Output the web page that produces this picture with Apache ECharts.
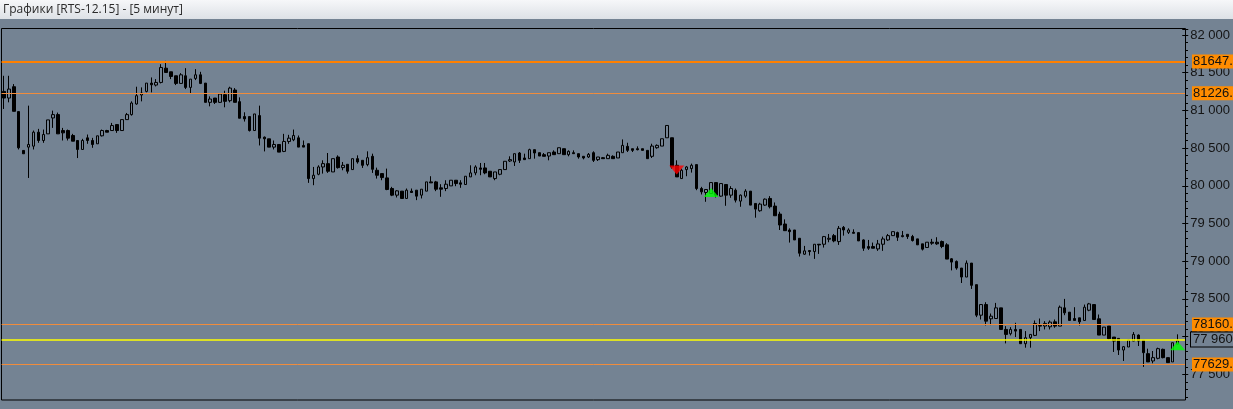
<!DOCTYPE html>
<html><head><meta charset="utf-8">
<script src="https://cdn.jsdelivr.net/npm/echarts@6/dist/echarts.min.js"></script>
<style>html,body{margin:0;padding:0;background:#748393;overflow:hidden}#c{width:1233px;height:409px}</style>
</head><body><div id="c"></div><script>
const titleText = 'Графики [RTS-12.15] - [5 минут]';

const open = [81252,81164,81314,80984,80469,80513,80526,80711,80601,80689,
80900,80944,80733,80733,80667,80601,80482,80636,80601,80557,
80663,80733,80733,80812,80733,80878,80944,81085,81204,81252,
81362,81336,81371,81560,81512,81459,81358,81459,81305,81424,
81472,81362,81107,81164,81107,81208,81129,81270,81116,80918,
80918,80733,80931,80645,80623,80513,80548,80456,80588,80610,
80636,80535,80558,80096,80153,80250,80294,80184,80382,80241,
80285,80215,80360,80338,80281,80391,80206,80162,80105,79964,
79876,79929,79832,79929,79942,79876,79929,80052,80052,79973,
79964,79999,80074,80039,80017,80118,80171,80237,80237,80193,
80096,80153,80215,80329,80316,80435,80369,80360,80479,80439,
80413,80395,80448,80426,80492,80413,80439,80426,80391,80382,
80439,80347,80373,80360,80391,80369,80439,80523,80492,80492,
80492,80470,80391,80505,80527,80637,80637,80272,80096,80215,
80228,80281,79964,79911,79898,80043,79863,80017,79876,79942,
79797,79863,79929,79766,79669,79744,79832,79731,79625,79493,
79414,79414,79304,79093,79141,79128,79225,79225,79291,79339,
79260,79449,79383,79383,79379,79282,79194,79194,79163,79225,
79282,79339,79379,79339,79357,79327,79296,79230,79182,79252,
79252,79261,79217,79032,78997,78909,78790,78975,78689,78284,
78425,78236,78240,78381,78095,78038,78095,78095,77906,77985,
78016,78148,78140,78130,78196,78139,78381,78324,78240,78249,
78214,78350,78425,78236,78020,78139,77994,77976,77822,77862,
77941,78020,77950,77774,77677,77712,77831,77721,77664,77900];

const close = [81164,81283,80988,80504,80425,80548,80711,80601,80680,80874,
80944,80689,80702,80632,80592,80482,80601,80601,80548,80663,
80733,80711,80799,80733,80878,80944,81098,81195,81230,81362,
81340,81371,81569,81503,81450,81358,81472,81305,81415,81472,
81358,81107,81151,81107,81217,81120,81296,81107,80896,80887,
80733,80953,80632,80623,80513,80548,80447,80588,80632,80667,
80513,80513,80096,80140,80250,80294,80193,80360,80241,80272,
80193,80360,80316,80272,80373,80219,80140,80109,79951,79876,
79933,79832,79942,79911,79863,79955,80052,80039,79955,79955,
80021,80074,80030,80021,80127,80171,80250,80219,80171,80118,
80184,80215,80325,80347,80426,80338,80347,80479,80435,80395,
80391,80439,80413,80505,80413,80457,80426,80382,80369,80417,
80338,80382,80360,80404,80360,80448,80536,80470,80470,80479,
80470,80360,80527,80536,80624,80800,80250,80118,80206,80250,
80272,79964,79920,79951,80043,79876,80030,79876,79964,79810,
79876,79929,79744,79691,79757,79823,79722,79603,79480,79405,
79392,79282,79106,79137,79128,79225,79216,79326,79304,79269,
79436,79414,79414,79370,79269,79172,79172,79172,79229,79295,
79339,79392,79317,79326,79326,79274,79217,79160,79252,79239,
79230,79195,79028,78988,78909,78790,78975,78680,78284,78425,
78205,78271,78381,78095,78029,78095,78073,77906,77985,78029,
78174,78139,78175,78192,78139,78390,78315,78214,78214,78196,
78390,78434,78227,78020,78126,77972,77941,77822,77866,77954,
78029,77941,77787,77664,77721,77840,77721,77655,77919,77945];

const low = [81019,81107,80988,80482,80425,80104,80482,80570,80570,80689,
80768,80689,80601,80601,80592,80368,80482,80557,80504,80557,
80654,80711,80733,80702,80733,80878,80931,81076,81120,81239,
81239,81318,81358,81503,81415,81336,81358,81283,81226,81402,
81349,81107,81054,81085,81098,81041,81107,81107,80896,80852,
80720,80733,80535,80456,80513,80482,80447,80447,80557,80592,
80513,80513,80039,80008,80140,80162,80171,80184,80228,80206,
80162,80215,80294,80237,80259,80171,80096,80074,79942,79863,
79845,79832,79832,79911,79810,79832,79929,80039,79929,79854,
79929,79999,79995,79973,80017,80118,80140,80140,80153,80118,
80074,80140,80215,80316,80263,80303,80347,80360,80360,80395,
80391,80338,80413,80426,80413,80391,80426,80360,80351,80369,
80316,80329,80360,80360,80360,80369,80439,80448,80448,80470,
80470,80360,80369,80492,80527,80637,80228,80118,80096,80127,
80175,79942,79885,79788,79898,79845,79854,79735,79841,79779,
79722,79841,79744,79577,79656,79735,79700,79603,79414,79405,
79247,79282,79062,79084,79075,79031,79097,79181,79251,79251,
79216,79339,79361,79370,79269,79137,79150,79172,79137,79137,
79269,79335,79269,79317,79295,79261,79217,79142,79182,79217,
79217,79173,79028,78878,78887,78711,78790,78632,78258,78227,
78148,78152,78236,78095,77910,78016,77994,77906,77853,77853,
78007,78073,78095,78095,78117,78139,78284,78214,78214,78148,
78214,78337,78227,78020,78020,77963,77796,77756,77677,77862,
77941,77875,77598,77664,77646,77699,77712,77655,77664,77900];

const high = [81459,81459,81349,80984,80469,81063,80733,80755,80746,80874,
80997,80971,80768,80746,80689,80601,80623,80680,80636,80663,
80746,80742,80834,80812,80878,80966,81120,81314,81305,81362,
81437,81415,81613,81657,81512,81459,81494,81560,81415,81547,
81512,81362,81186,81164,81230,81261,81314,81296,81173,80975,
80918,80953,81063,80654,80623,80601,80548,80689,80676,80746,
80667,80601,80558,80250,80272,80338,80435,80360,80404,80316,
80285,80360,80404,80338,80457,80426,80241,80162,80228,79986,
79942,79929,79964,79964,79942,79955,80052,80127,80065,80021,
80074,80074,80074,80074,80127,80272,80272,80303,80303,80193,
80184,80215,80325,80391,80426,80448,80426,80492,80479,80439,
80435,80439,80470,80505,80492,80470,80470,80426,80391,80435,
80457,80382,80382,80426,80404,80448,80615,80571,80492,80523,
80492,80470,80558,80549,80624,80800,80637,80338,80228,80263,
80294,80281,79986,79951,80043,80043,80030,80017,79995,79964,
79885,79955,79929,79766,79775,79832,79863,79779,79656,79555,
79436,79414,79304,79203,79141,79225,79225,79335,79361,79361,
79467,79467,79436,79423,79379,79291,79282,79247,79282,79326,
79361,79392,79392,79401,79357,79349,79296,79230,79252,79296,
79318,79274,79239,79041,79010,78909,79010,78975,78689,78425,
78456,78306,78447,78381,78139,78126,78183,78095,78073,78029,
78214,78240,78205,78214,78227,78412,78500,78324,78390,78249,
78425,78447,78425,78293,78126,78139,77994,77976,77875,77954,
78060,78029,77950,77840,77809,77853,77840,77721,77919,78030];

// horizontal levels (orange) and last price (yellow)
const levelValues = [81647, 81226, 78160, 77629];
const levelLabels = ['81647.', '81226.', '78160.', '77629.'];
const lastPrice = 77960;
const lastPriceLabel = '77 960';

// signal markers [candle index, price]
const sellSignals = [[137, 80211]];
const buySignals = [[144, 79912], [239, 77877]];

const BG = '#748393';
const FONT = '"Liberation Sans", Arial, sans-serif';

const cats = open.map((_, i) => String(i)).concat(['']);
const candles = open.map((o, i) => [o, close[i], low[i], high[i]]);
const fmt = v => String(v).replace(/\B(?=(\d{3})+(?!\d))/g, ' ');

const lvlLines = levelValues.map((v, i) => ({
  yAxis: v,
  lineStyle: i === 0
    ? { color: '#ff8000', width: 2, type: 'solid' }
    : { color: '#f08c3c', width: 1, type: 'solid' },
  label: {
    show: true, position: 'end', distance: 7, formatter: levelLabels[i],
    backgroundColor: '#ff8c00', color: '#111', fontSize: 13, fontFamily: FONT,
    padding: [1, 4, 0, 1], lineHeight: 13
  }
}));
lvlLines.push({
  yAxis: lastPrice,
  lineStyle: { color: '#ffff00', width: 1.5, type: 'solid' },
  label: {
    show: true, position: 'end', distance: 6, formatter: lastPriceLabel,
    backgroundColor: BG, borderColor: '#000', borderWidth: 1, color: '#111',
    fontSize: 13, fontFamily: FONT, padding: [1, 4, 0, 2], lineHeight: 13
  }
});

const chart = echarts.init(document.getElementById('c'), null, { renderer: 'canvas' });
const gl = 1.55, gw = 1183.45, gt = 28.97;
chart.setOption({
  animation: false,
  backgroundColor: BG,
  grid: [
    { left: gl, top: gt, width: gw, height: 367.95 },
    { left: gl, top: gt, width: gw, height: 345.33 }
  ],
  xAxis: [
    { gridIndex: 0, type: 'category', data: cats, boundaryGap: true, show: false },
    { gridIndex: 1, type: 'category', data: cats, boundaryGap: true, show: false }
  ],
  yAxis: [
    { gridIndex: 0, type: 'value', position: 'right', min: 77200, max: 82080, interval: 100,
      axisLine: { show: false }, splitLine: { show: false },
      axisTick: { show: true, length: 3, lineStyle: { color: '#000', width: 1 } },
      axisLabel: { show: false } },
    { gridIndex: 1, type: 'value', position: 'right', min: 77500, max: 82080, interval: 500,
      axisLine: { show: false }, splitLine: { show: false },
      axisTick: { show: true, length: 6, lineStyle: { color: '#000', width: 1 } },
      axisLabel: { show: true, margin: 8, color: '#141414', fontSize: 13, fontFamily: FONT,
        formatter: v => (v % 500 === 0 ? fmt(v) : '') } }
  ],
  graphic: [
    { type: 'rect', z: 100, shape: { x: 0, y: 0, width: 1233, height: 19 },
      style: { fill: new echarts.graphic.LinearGradient(0, 0, 0, 1, [
        { offset: 0, color: '#f6f7f9' }, { offset: 1, color: '#dde1e6' }]) } },
    { type: 'text', z: 101, x: 3, y: 10,
      style: { text: titleText, font: '12px "Open Sans", ' + FONT, fill: '#2a2a2a', textVerticalAlign: 'middle' } },
    { type: 'rect', z: 1, silent: true, shape: { x: 1.5, y: 28.5, width: 1184, height: 371.5 },
      style: { fill: null, stroke: '#000', lineWidth: 1 } }
  ],
  series: [
    {
      type: 'candlestick', xAxisIndex: 0, yAxisIndex: 0, data: candles, barWidth: 3,
      itemStyle: { color: BG, color0: '#000', borderColor: '#000', borderColor0: '#000', borderWidth: 1 },
      markLine: { silent: true, symbol: 'none', animation: false, data: lvlLines }
    },
    {
      type: 'scatter', xAxisIndex: 0, yAxisIndex: 0, data: sellSignals,
      symbol: 'triangle', symbolRotate: 180, symbolSize: [15, 9],
      itemStyle: { color: '#ff0000' }, z: 5
    },
    {
      type: 'scatter', xAxisIndex: 0, yAxisIndex: 0, data: buySignals,
      symbol: 'triangle', symbolSize: [15, 9],
      itemStyle: { color: '#00ff00' }, z: 5
    }
  ]
});
</script></body></html>
